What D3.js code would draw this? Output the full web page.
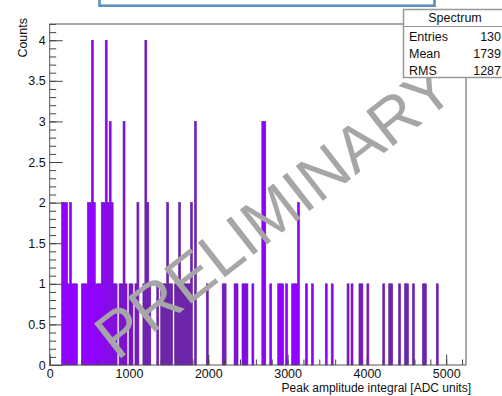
<!DOCTYPE html>
<html>
<head>
<meta charset="utf-8">
<script src="https://cdn.jsdelivr.net/npm/d3@7"></script>
<style>
  body { margin: 0; background: #fff; }
  svg { display: block; }
  text { font-family: "Liberation Sans", Arial, Helvetica, sans-serif; }
</style>
</head>
<body>
<svg id="chart" width="502" height="396"></svg>
<script>
// Histogram contents: lower edge of each filled bin (ADC units) and its count
const binWidth = 25;
const binLow = [
  150, 175, 200, 225, 250, 275, 300, 325, 400, 425, 450, 475, 500, 525, 550,
  575, 600, 625, 650, 675, 700, 725, 750, 775, 800, 825, 875, 900, 925,
  950, 1000, 1025, 1075, 1100, 1175, 1200, 1225, 1250,
  1350, 1400, 1425, 1450, 1475, 1500, 1525, 1575, 1600, 1625, 1650,
  1675, 1700, 1725, 1750, 1775, 1825,
  1975, 2175, 2200, 2325, 2350, 2425, 2450, 2475, 2550, 2675, 2700, 2775, 2875, 2900,
  2925, 2975, 3050, 3075, 3100, 3125, 3225, 3300, 3475, 3550, 3750, 3800, 3900,
  3925, 4000, 4200, 4275, 4300, 4400, 4475, 4500, 4575, 4700, 4725, 4875
];
const binCount = [
  2, 2, 2, 1, 2, 1, 1, 1, 1, 1, 1, 2, 2, 4, 2,
  1, 1, 1, 2, 2, 4, 2, 3, 2, 1, 1, 1, 1, 3,
  1, 1, 1, 1, 2, 1, 4, 2, 1,
  1, 1, 1, 1, 2, 1, 1, 1, 1, 2, 1,
  1, 1, 1, 1, 2, 3,
  1, 1, 1, 1, 1, 1, 1, 1, 1, 3, 3, 1, 1, 1,
  1, 1, 1, 1, 1, 2, 1, 1, 1, 1, 1, 1, 1,
  1, 1, 1, 1, 1, 1, 1, 1, 1, 1, 1, 1
];

const xMajor = [0, 1000, 2000, 3000, 4000, 5000];
const yMajor = [0, 0.5, 1, 1.5, 2, 2.5, 3, 3.5, 4];
const statNames = ["Entries", "Mean", "RMS"];
const statValues = ["130", "1739", "1287"];

const svg = d3.select("#chart");
const frame = { left: 49.7, right: 466, top: 24, bottom: 365 };

const x = d3.scaleLinear().domain([0, 5250]).range([frame.left, frame.right]);
const y = d3.scaleLinear().domain([0, 4.2]).range([frame.bottom, frame.top]);

svg.append("rect").attr("width", 502).attr("height", 396).attr("fill", "#fff");

// title box running off the top of the canvas
svg.append("rect")
  .attr("x", 99.5).attr("y", -40).attr("width", 335).attr("height", 45.7)
  .attr("fill", "#fff").attr("stroke", "#5b8fbd").attr("stroke-width", 2.6);

// histogram bars
const bins = binLow.map((lo, i) => ({ lo, n: binCount[i] }));
svg.append("g").selectAll("rect").data(bins).join("rect")
  .attr("x", d => x(d.lo))
  .attr("width", d => x(d.lo + binWidth) - x(d.lo))
  .attr("y", d => y(d.n))
  .attr("height", d => y(0) - y(d.n))
  .attr("fill", "#8f00ff")
  .attr("stroke", "#5e2a8c")
  .attr("stroke-width", 0.6);

// watermark
svg.append("text")
  .attr("transform", "translate(274,211) rotate(-38)")
  .attr("text-anchor", "middle")
  .attr("dominant-baseline", "central")
  .attr("font-size", 64)
  .attr("fill", "#a6a6a6")
  .text("PRELIMINARY");

// axes: ticks point into the frame
const yMinor = d3.range(0, 4.2001, 0.1);
const xMinor = d3.range(0, 5250, 200);

svg.append("g").attr("transform", `translate(${frame.left},0)`)
  .call(d3.axisLeft(y).tickValues(yMinor).tickSizeInner(-6.5).tickSizeOuter(0).tickFormat(""))
  .call(g => g.select(".domain").remove());
const yAxis = svg.append("g").attr("transform", `translate(${frame.left},0)`)
  .call(d3.axisLeft(y).tickValues(yMajor).tickSizeInner(-13).tickSizeOuter(0).tickPadding(4).tickFormat(d3.format("~g")))
  .call(g => g.select(".domain").remove());

svg.append("g").attr("transform", `translate(0,${frame.bottom})`)
  .call(d3.axisBottom(x).tickValues(xMinor).tickSizeInner(-5.5).tickSizeOuter(0).tickFormat(""))
  .call(g => g.select(".domain").remove());
const xAxis = svg.append("g").attr("transform", `translate(0,${frame.bottom})`)
  .call(d3.axisBottom(x).tickValues(xMajor).tickSizeInner(-10.5).tickSizeOuter(0).tickPadding(4).tickFormat(d3.format("d")))
  .call(g => g.select(".domain").remove());

svg.selectAll(".tick line").attr("stroke", "#444");
[xAxis, yAxis].forEach(g => g.selectAll("text")
  .attr("font-size", 12.5).attr("fill", "#111")
  .attr("font-family", "'Liberation Sans', Arial, sans-serif"));

// frame
svg.append("rect")
  .attr("x", frame.left).attr("y", frame.top)
  .attr("width", frame.right - frame.left).attr("height", frame.bottom - frame.top)
  .attr("fill", "none").attr("stroke", "#555").attr("stroke-width", 1);

// axis titles
svg.append("text")
  .attr("x", 471).attr("y", 392).attr("text-anchor", "end")
  .attr("font-size", 12).attr("fill", "#111")
  .text("Peak amplitude integral [ADC units]");
svg.append("text")
  .attr("transform", "translate(27,18) rotate(-90)")
  .attr("text-anchor", "end")
  .attr("font-size", 12.5).attr("fill", "#111")
  .text("Counts");

// statistics box
const stats = svg.append("g");
stats.append("rect")
  .attr("x", 403.5).attr("y", 9.5).attr("width", 120).attr("height", 68)
  .attr("fill", "#fff").attr("stroke", "#999").attr("stroke-width", 1.5);
stats.append("line")
  .attr("x1", 403.5).attr("x2", 502).attr("y1", 26.5).attr("y2", 26.5)
  .attr("stroke", "#999");
stats.append("text")
  .attr("x", 455).attr("y", 22).attr("text-anchor", "middle")
  .attr("font-size", 12.5).attr("fill", "#111").text("Spectrum");
statNames.forEach((name, i) => {
  stats.append("text").attr("x", 409).attr("y", 41 + i * 17)
    .attr("font-size", 12.5).attr("fill", "#111").text(name);
  stats.append("text").attr("x", 501).attr("y", 41 + i * 17)
    .attr("text-anchor", "end")
    .attr("font-size", 12.5).attr("fill", "#111").text(statValues[i]);
});
</script>
</body>
</html>
